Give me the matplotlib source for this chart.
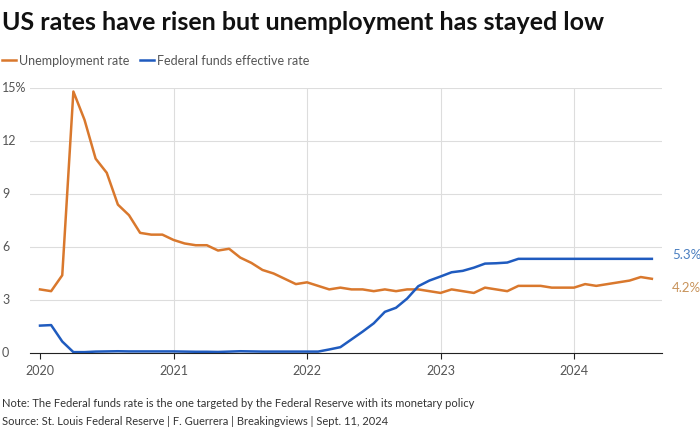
import matplotlib
matplotlib.use("Agg")
import matplotlib.pyplot as plt
import numpy as np

unemployment = [3.6,3.5,4.4,14.8,13.2,11.0,10.2,8.4,7.8,6.8,6.7,6.7,
                6.4,6.2,6.1,6.1,5.8,5.9,5.4,5.1,4.7,4.5,4.2,3.9,
                4.0,3.8,3.6,3.7,3.6,3.6,3.5,3.6,3.5,3.6,3.6,3.5,
                3.4,3.6,3.5,3.4,3.7,3.6,3.5,3.8,3.8,3.8,3.7,3.7,
                3.7,3.9,3.8,3.9,4.0,4.1,4.3,4.2]
fedfunds = [1.55,1.58,0.65,0.05,0.05,0.08,0.09,0.10,0.09,0.09,0.09,0.09,
            0.09,0.08,0.07,0.07,0.06,0.08,0.10,0.09,0.08,0.08,0.08,0.08,
            0.08,0.08,0.20,0.33,0.77,1.21,1.68,2.33,2.56,3.08,3.78,4.10,
            4.33,4.57,4.65,4.83,5.06,5.08,5.12,5.33,5.33,5.33,5.33,5.33,
            5.33,5.33,5.33,5.33,5.33,5.33,5.33,5.33]
yticks = [0,3,6,9,12,15]
ytick_labels = ["0","3","6","9","12","15%"]
years = [2020,2021,2022,2023,2024]

x = 2020 + np.arange(len(unemployment))/12
orange = "#d9782d"; blue = "#1f5bbf"

W,H = 700,431
fig = plt.figure(figsize=(W/100,H/100), dpi=100)
fig.patch.set_facecolor("white")
ax = fig.add_axes([30/W, 1-354/H, 632/W, 265/H])
ax.plot(x, unemployment, color=orange, lw=1.8)
ax.plot(x, fedfunds, color=blue, lw=1.8)
ax.set_xlim(2020-10/133.5, 2024+88/133.5)
ax.set_ylim(0,15)
for s in ["top","right","left"]:
    ax.spines[s].set_visible(False)
ax.spines["bottom"].set_color("#222222")
ax.set_yticks(yticks); ax.set_yticklabels([])
ax.tick_params(axis="y", length=0)
for v in yticks[1:]:
    ax.axhline(v, color="#dddddd", lw=0.8, zorder=0)
for yv,lab in zip(yticks,ytick_labels):
    fig.text(2/W, 1-(354-265*yv/15-1)/H, lab, fontsize=9, color="#555555", ha="left", va="center", family="Lato")
ax.set_xticks(years); ax.set_xticklabels([])
ax.tick_params(axis="x", length=4, color="#222222")
for yr in years[1:]:
    ax.axvline(yr, color="#dddddd", lw=0.8, zorder=0)
for yr in years:
    ax.text(yr, -0.6, str(yr), fontsize=9, color="#555555", ha="center", va="top", family="Lato")
ax.text(x[-1]+0.15, fedfunds[-1]+0.3, "5.3%", color="#4a7fc0", fontsize=9.5, va="center", family="Lato", clip_on=False)
ax.text(x[-1]+0.15, unemployment[-1]-0.45, "4.2%", color="#c8935a", fontsize=9.5, va="center", family="Lato", clip_on=False)

fig.text(2/W, 1-22/H, "US rates have risen but unemployment has stayed low", fontsize=18, fontweight="bold", va="center", family="Lato", color="#111111")
fig.add_artist(plt.Line2D([2/W,16/W],[1-61/H,1-61/H], color=orange, lw=1.8))
fig.text(19/W, 1-61/H, "Unemployment rate", fontsize=9, color="#555555", va="center", family="Lato")
fig.add_artist(plt.Line2D([140/W,154/W],[1-61/H,1-61/H], color=blue, lw=1.8))
fig.text(157/W, 1-61/H, "Federal funds effective rate", fontsize=9, color="#555555", va="center", family="Lato")
fig.text(2/W, 1-404/H, "Note: The Federal funds rate is the one targeted by the Federal Reserve with its monetary policy", fontsize=8, color="#333333", va="center", family="Lato")
fig.text(2/W, 1-422/H, "Source: St. Louis Federal Reserve | F. Guerrera | Breakingviews | Sept. 11, 2024", fontsize=8, color="#333333", va="center", family="Lato")
fig.savefig("out.png", dpi=100)
